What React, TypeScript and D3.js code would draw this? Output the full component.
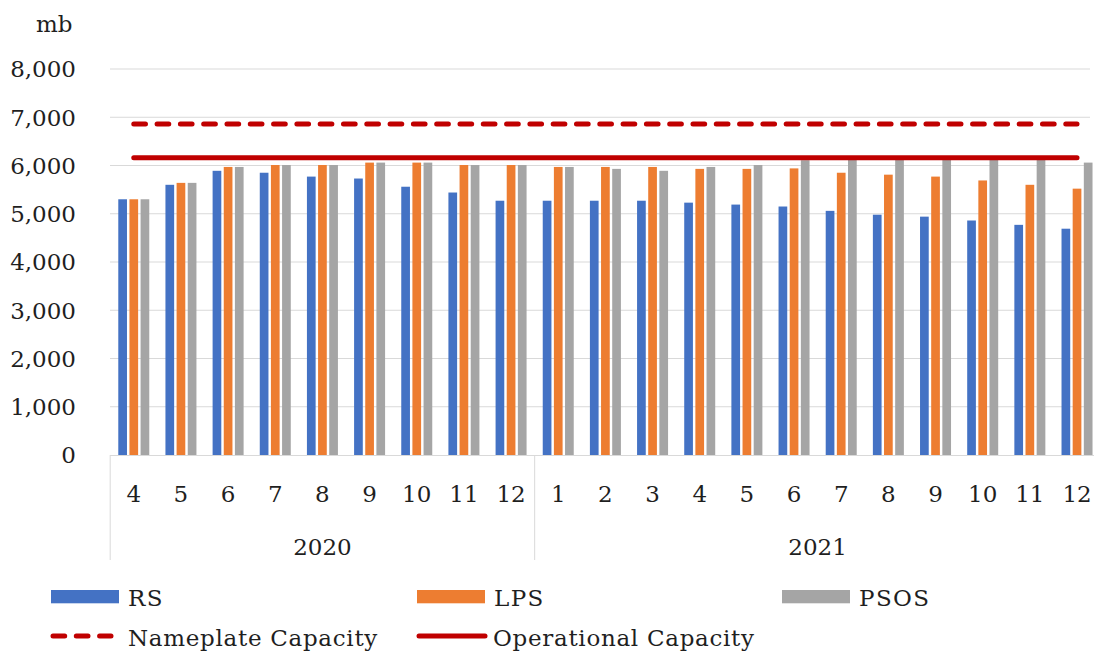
import React from "react";
import * as d3 from "d3";

const months = ["4","5","6","7","8","9","10","11","12","1","2","3","4","5","6","7","8","9","10","11","12"];
const years = ["2020","2021"];
const yearCounts = [9, 12];
const seriesNames = ["RS","LPS","PSOS"];
const rsValues = [5300,5600,5890,5850,5770,5730,5560,5440,5270,5270,5270,5270,5230,5190,5150,5060,4980,4940,4860,4770,4690];
const lpsValues = [5300,5640,5970,6010,6010,6060,6060,6010,6010,5970,5970,5970,5930,5930,5940,5850,5810,5770,5690,5600,5520];
const psosValues = [5300,5640,5970,6010,6010,6060,6060,6010,6010,5970,5930,5890,5970,6010,6110,6120,6120,6130,6130,6130,6060];
const nameplateCapacity = 6860;
const operationalCapacity = 6160;
const yTicks = [0,1000,2000,3000,4000,5000,6000,7000,8000];
const lineNames = ["Nameplate Capacity","Operational Capacity"];

const colors = ["#4472C4","#ED7D31","#A5A5A5"];
const red = "#C00000";
const FONT = "'DejaVu Serif', serif";
const FS = 23;
const TXT = "#1f1f1f";

export default function App() {
  const idx = months.map((_, i) => i);
  const x = d3.scaleBand<number>().domain(idx).range([110.2, 1100.6]).paddingInner(0).paddingOuter(0);
  const xs = d3.scaleBand<string>().domain(seriesNames).range([-15.5, 15.5]).paddingInner(0.22);
  const y = d3.scaleLinear().domain([0, 8000]).range([455, 69]);
  const seriesVals = [rsValues, lpsValues, psosValues];
  const cx = (i: number) => (x(i) as number) + x.bandwidth() / 2;
  const plotLeft = 110, plotRight = 1090;

  const bounds: number[] = [x(0) as number];
  let acc = 0;
  yearCounts.forEach((c) => { acc += c; bounds.push(acc < months.length ? (x(acc) as number) : (x(months.length - 1) as number) + x.bandwidth()); });

  const lineGen = d3.line<number>().x((d, i) => cx(i)).y((d) => y(d));
  const npData = months.map(() => nameplateCapacity);
  const opData = months.map(() => operationalCapacity);

  const legendCols = [51, 417, 782];
  const LS = 0.7;
  return (
    <svg width={1094} height={651} style={{ position: "absolute", left: 0, top: 0, background: "#fff" }} fontFamily={FONT}>
      <rect x={0} y={0} width={1094} height={651} fill="#fff" />
      {yTicks.filter((t) => t > 0).map((t) => (
        <line key={t} x1={plotLeft} x2={plotRight} y1={y(t)} y2={y(t)} stroke="#D9D9D9" strokeWidth={1} />
      ))}
      {yTicks.map((t) => (
        <text key={t} x={76} y={y(t) + 8.3} textAnchor="end" fontSize={FS} fill={TXT}>{d3.format(",")(t)}</text>
      ))}
      <text x={36} y={32} fontSize={FS} fill={TXT}>mb</text>
      {seriesVals.map((vals, s) => (
        <g key={s}>
          {vals.map((v, i) => (
            <rect key={i} x={cx(i) + (xs(seriesNames[s]) as number)} y={y(v)} width={xs.bandwidth()} height={y(0) - y(v)} fill={colors[s]} />
          ))}
        </g>
      ))}
      <line x1={plotLeft} x2={1094} y1={455.5} y2={455.5} stroke="#D9D9D9" strokeWidth={1} />
      {bounds.map((b, i) => (
        <line key={i} x1={b} x2={b} y1={455} y2={560} stroke="#D9D9D9" strokeWidth={1} />
      ))}
      {months.map((m, i) => (
        <text key={i} x={cx(i)} y={501.5} textAnchor="middle" fontSize={FS} fill={TXT}>{m}</text>
      ))}
      {years.map((yr, i) => (
        <text key={yr} x={(bounds[i] + bounds[i + 1]) / 2} y={555} textAnchor="middle" fontSize={FS} fill={TXT}>{yr}</text>
      ))}
      <path d={lineGen(npData) || ""} fill="none" stroke={red} strokeWidth={5} strokeDasharray="11.7 11.6" strokeLinecap="round" />
      <path d={lineGen(opData) || ""} fill="none" stroke={red} strokeWidth={5} strokeLinecap="round" />
      {seriesNames.map((n, i) => (
        <g key={n}>
          <rect x={legendCols[i]} y={590} width={68} height={13.3} fill={colors[i]} />
          <text x={legendCols[i] + 77} y={605.7} fontSize={FS} fill={TXT} letterSpacing={LS * 2}>{n}</text>
        </g>
      ))}
      <line x1={legendCols[0] + 2} x2={legendCols[0] + 60} y1={636} y2={636} stroke={red} strokeWidth={5} strokeDasharray="11.7 11.6" strokeLinecap="round" />
      <text x={legendCols[0] + 77} y={645.7} fontSize={FS} fill={TXT} letterSpacing={LS}>{lineNames[0]}</text>
      <line x1={legendCols[1] + 2} x2={legendCols[1] + 68} y1={636} y2={636} stroke={red} strokeWidth={5} strokeLinecap="round" />
      <text x={legendCols[1] + 76} y={645.7} fontSize={FS} fill={TXT} letterSpacing={LS}>{lineNames[1]}</text>
    </svg>
  );
}
